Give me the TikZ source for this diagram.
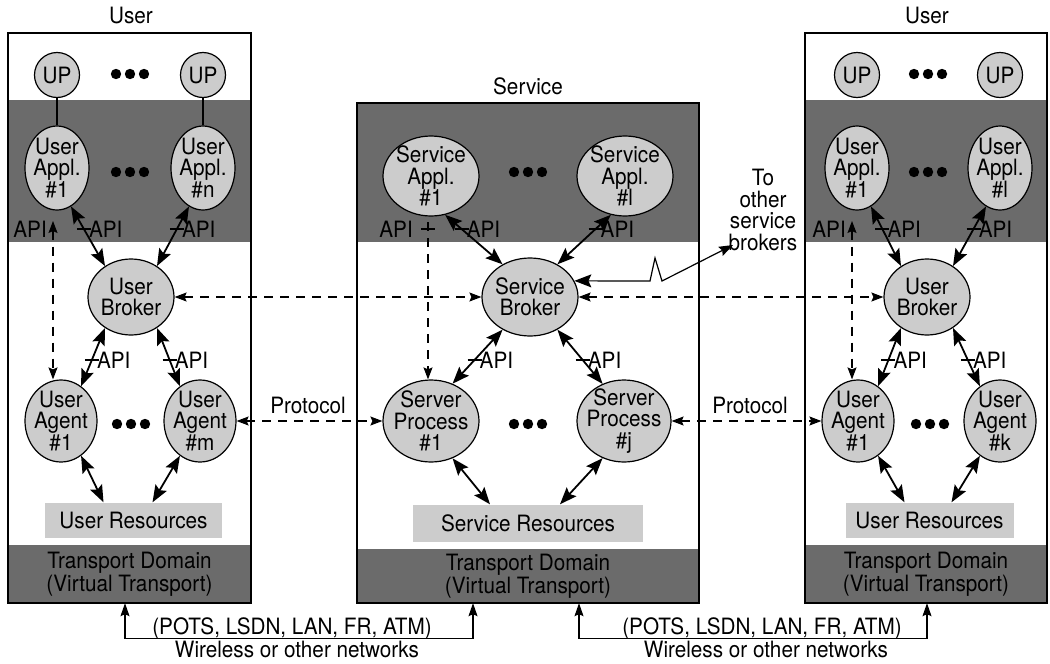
\documentclass[tikz,border=0pt]{standalone}
\usepackage{fontspec}
\setmainfont{TeX Gyre Heros}[FakeStretch=0.92]
\usetikzlibrary{shapes.geometric,arrows.meta,calc}
\definecolor{bandgray}{gray}{0.42}
\definecolor{bubgray}{gray}{0.80}
\definecolor{resgray}{gray}{0.80}

% ellipse bubble with its text set on top
\newcommand{\Bub}[5]{%
  \node[bub, minimum width=#3pt, minimum height=#4pt] (#1) at (#2) {};
  \node[bubtext] (#1-t) at (#1) {#5};}

% "API" tag: short tick across a connector at height #3, label to its right
\newcommand{\ApiOn}[4]{%
  \coordinate (#4) at (intersection cs: first line={(#1)--(#2)}, second line={(0,#3)--(1000,#3)});
  \draw[apitick] ([xshift=-7pt]#4) -- ([xshift=7pt]#4);
  \node[lbl, anchor=west] (#4-t) at ([xshift=5pt]#4) {API};}

% three bold dots
\newcommand{\Dots}[2]{%
  \foreach \dx in {-14,0,14} \fill ($(#1,#2)+(\dx,0)$) circle (5.2pt);}

\begin{document}
\begin{tikzpicture}[x=1pt, y=-1pt,
  lbl/.style={font=\fontsize{22.5}{21.5}\selectfont, inner sep=0pt},
  bubtext/.style={lbl, align=center},
  boxframe/.style={draw=black, line width=1.6pt},
  band/.style={fill=bandgray, inner sep=0pt, font=\fontsize{22.5}{23}\selectfont},
  bub/.style={ellipse, draw=black, line width=1.2pt, fill=bubgray, inner sep=0pt},
  upcircle/.style={circle, draw=black, line width=1.2pt, fill=bubgray, minimum size=45pt, inner sep=0pt, font=\fontsize{22.5}{21.5}\selectfont},
  resbox/.style={fill=resgray, minimum height=35pt, inner sep=0pt, font=\fontsize{22.5}{21.5}\selectfont},
  apiarrow/.style={line width=1.8pt, {Stealth[length=17pt,width=13pt,inset=3pt]}-{Stealth[length=17pt,width=13pt,inset=3pt]}},
  apitick/.style={line width=1.1pt},
  thinline/.style={line width=1.1pt},
  dashline/.style={line width=1.1pt, dash pattern=on 9pt off 7pt, -{Stealth[length=12pt,width=9pt,inset=2pt]}},
  dashboth/.style={dashline, {Stealth[length=12pt,width=9pt,inset=2pt]}-{Stealth[length=12pt,width=9pt,inset=2pt]}},
  bracket/.style={line width=1.1pt, {Stealth[length=13pt,width=9pt,inset=2pt]}-{Stealth[length=13pt,width=9pt,inset=2pt]}},
  zap/.style={line width=1.2pt, {Stealth[length=17pt,width=13pt,inset=3pt]}-{Stealth[length=14pt,width=10pt,inset=2pt]}}
]
\useasboundingbox (0,0) rectangle (1050,664);

% ---------- titles ----------
\node[lbl] (t-user-l) at (131,16) {User};
\node[lbl] (t-service) at (528,86) {Service};
\node[lbl] (t-user-r) at (927,16) {User};

% ---------- domain frames and shaded bands ----------
\fill[bandgray] (8,100) rectangle (251,242);
\node[band, minimum width=243pt, minimum height=58pt, align=center] (ltr) at (129.5,574) {Transport Domain\\(Virtual Transport)};
\draw[boxframe] (8,33) rectangle (251,603);

\fill[bandgray] (357,103) rectangle (699,242);
\node[band, minimum width=342pt, minimum height=54pt, align=center] (ctr) at (528,576) {Transport Domain\\(Virtual Transport)};
\draw[boxframe] (357,103) rectangle (699,603);

\fill[bandgray] (805,100) rectangle (1047,242);
\node[band, minimum width=242pt, minimum height=58pt, align=center] (rtr) at (926,574) {Transport Domain\\(Virtual Transport)};
\draw[boxframe] (805,33) rectangle (1047,603);

% ---------- left user domain ----------
\node[upcircle] (lup1) at (57,75) {UP};
\node[upcircle] (lupn) at (203,75) {UP};
\Dots{130}{74}
\Bub{la1}{57,168}{64}{84}{User\\Appl.\\\#1}
\Bub{lan}{203,168}{64}{84}{User\\Appl.\\\#n}
\Dots{130}{172}
\draw[thinline] (lup1) -- (la1);
\draw[thinline] (lupn) -- (lan);
\Bub{lb}{131,297}{86}{76}{User\\Broker}
\Bub{lg1}{61,421}{72}{82}{User\\Agent\\\#1}
\Bub{lgm}{200,421}{72}{82}{User\\Agent\\\#m}
\Dots{131}{424}
\node[resbox, minimum width=177pt] (lres) at (133.5,520) {User Resources};

\draw[apiarrow] (la1.-70) -- (lb.130);
\draw[apiarrow] (lan.-110) -- (lb.50);
\draw[apiarrow] (lb.-130) -- (lg1.60);
\draw[apiarrow] (lb.-50) -- (lgm.120);
\draw[apiarrow] (lg1.-60) -- ([xshift=-30pt]lres.north);
\draw[apiarrow] (lgm.-120) -- ([xshift=19pt]lres.north);
\ApiOn{la1.-70}{lb.130}{229}{lapi1}
\ApiOn{lan.-110}{lb.50}{229}{lapi2}
\ApiOn{lb.-130}{lg1.60}{360}{lapi3}
\ApiOn{lb.-50}{lgm.120}{360}{lapi4}

\coordinate (lv) at (53,221);
\draw[dashboth] (lv) -- (lv |- lg1.north);
\node[lbl, anchor=east] (lv-t) at (47,229) {API};

% ---------- service domain ----------
\Bub{sa1}{431,176}{96}{80}{Service\\Appl.\\\#1}
\Bub{sai}{625,176}{96}{80}{Service\\Appl.\\\#l}
\Dots{528}{172}
\Bub{sb}{530,297}{96}{78}{Service\\Broker}
\Bub{sp1}{431,421}{96}{82}{Server\\Process\\\#1}
\Bub{spj}{624,421}{94}{82}{Server\\Process\\\#j}
\Dots{528}{424}
\node[resbox, minimum width=230pt, minimum height=37pt] (sres) at (528,523) {Service Resources};

\draw[apiarrow] (sa1.-70) -- (sb.130);
\draw[apiarrow] (sai.-110) -- (sb.50);
\draw[apiarrow] (sb.-130) -- (sp1.60);
\draw[apiarrow] (sb.-50) -- (spj.120);
\draw[apiarrow] (sp1.-60) -- ([xshift=-38pt]sres.north);
\draw[apiarrow] (spj.-120) -- ([xshift=32pt]sres.north);
\ApiOn{sa1.-70}{sb.130}{229}{sapi1}
\ApiOn{sai.-110}{sb.50}{229}{sapi2}
\ApiOn{sb.-130}{sp1.60}{360}{sapi3}
\ApiOn{sb.-50}{spj.120}{360}{sapi4}

\coordinate (cv) at (428,222);
\draw[dashline] (cv) -- (cv |- sp1.north);
\draw[apitick] (421,229) -- (435,229);
\node[lbl, anchor=east] (cv-t) at (413,229) {API};

% link to other service brokers
\node[lbl, align=center] (tob) at (763,210) {To\\other\\service\\brokers};
\coordinate (tob-end) at (733,245);
\draw[zap] (sb.20) -- (650,281) -- (655,258) -- (662,281) -- (tob-end);

% ---------- right user domain ----------
\node[upcircle] (rup1) at (857,75) {UP};
\node[upcircle] (rupn) at (1000,75) {UP};
\Dots{928}{74}
\Bub{ra1}{857,168}{64}{84}{User\\Appl.\\\#1}
\Bub{ral}{1000,168}{64}{84}{User\\Appl.\\\#l}
\Dots{928}{172}
\Bub{rb}{927,297}{86}{76}{User\\Broker}
\Bub{rg1}{858,421}{72}{82}{User\\Agent\\\#1}
\Bub{rgk}{1000,421}{72}{82}{User\\Agent\\\#k}
\Dots{930}{424}
\node[resbox, minimum width=168pt] (rres) at (929.5,520) {User Resources};

\draw[apiarrow] (ra1.-70) -- (rb.130);
\draw[apiarrow] (ral.-110) -- (rb.50);
\draw[apiarrow] (rb.-130) -- (rg1.60);
\draw[apiarrow] (rb.-50) -- (rgk.120);
\draw[apiarrow] (rg1.-60) -- ([xshift=-25pt]rres.north);
\draw[apiarrow] (rgk.-120) -- ([xshift=22pt]rres.north);
\ApiOn{ra1.-70}{rb.130}{229}{rapi1}
\ApiOn{ral.-110}{rb.50}{229}{rapi2}
\ApiOn{rb.-130}{rg1.60}{360}{rapi3}
\ApiOn{rb.-50}{rgk.120}{360}{rapi4}

\coordinate (rv) at (852,221);
\draw[dashboth] (rv) -- (rv |- rg1.north);
\node[lbl, anchor=east] (rv-t) at (846,229) {API};

% ---------- peer links between domains ----------
\draw[dashboth] (lb) -- (sb);
\draw[dashboth] (sb) -- (rb);
\draw[dashboth] (lgm) -- (sp1);
\node[lbl] (prot-l) at (308,405) {Protocol};
\draw[dashboth] (spj) -- (rg1);
\node[lbl] (prot-r) at (750,405) {Protocol};

% ---------- physical networks below the transport domains ----------
\draw[bracket] ([xshift=-4.5pt]ltr.south) -- ++(0,35) -| ([xshift=-55pt]ctr.south);
\draw[bracket] ([xshift=51pt]ctr.south) -- ++(0,35) -| ([xshift=1pt]rtr.south);
\node[lbl, anchor=base] (net-l1) at (292,634) {(POTS, LSDN, LAN, FR, ATM)};
\node[lbl, anchor=base] (net-l2) at (297,657) {Wireless or other networks};
\node[lbl, anchor=base] (net-r1) at (762,634) {(POTS, LSDN, LAN, FR, ATM)};
\node[lbl, anchor=base] (net-r2) at (766,657) {Wireless or other networks};
\end{tikzpicture}
\end{document}
